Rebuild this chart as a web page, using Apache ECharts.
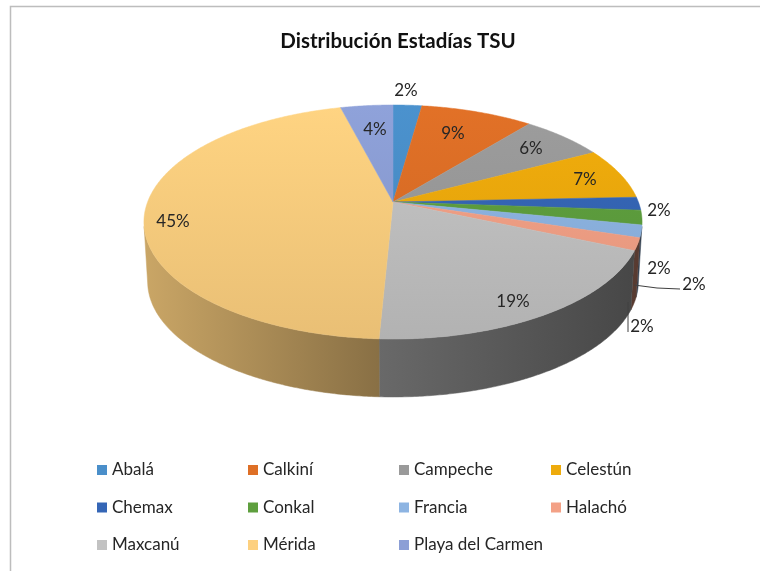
<!DOCTYPE html>
<html>
<head>
<meta charset="utf-8">
<script src="https://cdn.jsdelivr.net/npm/echarts@6/dist/echarts.min.js"></script>
<style>
  html, body { margin: 0; padding: 0; background: #fff; }
  #main { width: 760px; height: 571px; }
</style>
</head>
<body>
<div id="main"></div>
<script>
  // datos
  const categories = ['Abalá', 'Calkiní', 'Campeche', 'Celestún', 'Chemax', 'Conkal', 'Francia', 'Halachó', 'Maxcanú', 'Mérida', 'Playa del Carmen'];
  const values = [2.2, 8.6, 6.4, 7.1, 1.8, 2.0, 1.7, 1.7, 19.2, 45.2, 4.0];
  const colors = ['#4a8fca', '#de6f26', '#9a9a9a', '#eeab0c', '#3566b6', '#5e9f3e', '#8db4e2', '#f3a186', '#c2c2c2', '#fdd07f', '#8c9fd6'];

  // etiquetas, relativas al centro del pie
  const labelOffsets = [[13, -111], [60, -68], [138, -53], [192, -22], [266, 9], [266, 67], [301, 83], [249, 125], [120, 100], [-220, 20], [-18, -72]];
  const leaders = { 6: [[241, 83], [264, 86], [287, 87]], 7: [[235, 100], [235, 130]] };

  // perspectiva del disco
  const cx = 393, cy = 202, radiusX = 245.4, radiusY = 113.6, persp = 0.171;
  const depth = 60, shrink = 0.985;

  const total = values.reduce((a, b) => a + b, 0);

  function project(deg) {
    const t = deg * Math.PI / 180;
    const u = Math.sin(t), v = -Math.cos(t);
    const w = 1 - persp * v;
    return [radiusX * u / w, radiusY * v / w];
  }
  function topPoint(deg) {
    const p = project(deg);
    return [cx + p[0], cy + p[1]];
  }
  function bottomPoint(deg) {
    const p = project(deg);
    return [cx + p[0] * shrink, cy + p[1] * shrink + depth];
  }
  function shade(hex, f) {
    const n = parseInt(hex.slice(1), 16);
    const c = [n >> 16, (n >> 8) & 255, n & 255].map(x => Math.round(Math.min(255, x * f)));
    return 'rgb(' + c.join(',') + ')';
  }
  function arc(fn, from, to) {
    const pts = [];
    const steps = Math.max(2, Math.ceil((to - from) / 0.5));
    for (let i = 0; i <= steps; i++) pts.push(fn(from + (to - from) * i / steps));
    return pts;
  }

  // zona visible de la pared, donde la elipse es tangente a los lados
  const wallFrom = 102, wallTo = 258;

  function renderSlice(idx) {
    return function () {
      const before = values.slice(0, idx).reduce((a, b) => a + b, 0);
      const start = before / total * 360;
      const end = (before + values[idx]) / total * 360;
      const color = colors[idx];
      const children = [];

      const a = Math.max(start, wallFrom), b = Math.min(end, wallTo);
      if (b > a) {
        const side = arc(topPoint, a, b).concat(arc(bottomPoint, a, b).reverse());
        const fill = {
          type: 'linear', global: true, x: 144, y: 0, x2: 642, y2: 0,
          colorStops: [
            { offset: 0, color: shade(color, 0.8) },
            { offset: 0.47, color: shade(color, 0.54) },
            { offset: 1, color: shade(color, 0.36) }
          ]
        };
        children.push({ type: 'polygon', shape: { points: side }, style: { fill: fill, stroke: fill, lineWidth: 0.5 } });
      }

      const top = [[cx, cy]].concat(arc(topPoint, start, end));
      const topFill = {
        type: 'linear', global: true, x: 0, y: 105, x2: 0, y2: 339,
        colorStops: [{ offset: 0, color: shade(color, 1.02) }, { offset: 1, color: shade(color, 0.92) }]
      };
      children.push({ type: 'polygon', shape: { points: top }, style: { fill: topFill, stroke: topFill, lineWidth: 0.5 } });

      if (leaders[idx]) {
        children.push({
          type: 'polyline', z2: 100,
          shape: { points: leaders[idx].map(p => [cx + p[0], cy + p[1]]) },
          style: { fill: 'none', stroke: '#404040', lineWidth: 1 }
        });
      }
      children.push({
        type: 'text', z2: 100,
        x: cx + labelOffsets[idx][0], y: cy + labelOffsets[idx][1],
        style: {
          text: Math.round(values[idx] / total * 100) + '%',
          fill: '#262626', font: '17px Lato', align: 'center', verticalAlign: 'middle'
        }
      });
      return { type: 'group', children: children };
    };
  }

  const legendText = { fontFamily: 'Lato', fontSize: 17, color: '#262626', lineHeight: 20 };
  function legendColumn(x, names) {
    return {
      left: x, top: 460, padding: 0, orient: 'vertical', icon: 'rect',
      itemWidth: 10, itemHeight: 10, itemGap: 17.5,
      selectedMode: false, textStyle: legendText, data: names
    };
  }

  const myChart = echarts.init(document.getElementById('main'), null, { renderer: 'canvas' });
  myChart.setOption({
    animation: false,
    backgroundColor: '#fff',
    title: {
      text: 'Distribución Estadías TSU',
      left: 393, top: 26, textAlign: 'center',
      textStyle: { fontFamily: 'Lato', fontWeight: 'bold', fontSize: 20.5, color: '#111' }
    },
    graphic: [{
      type: 'polyline',
      shape: { points: [[10.5, 571], [10.5, 6.5], [760, 6.5]] },
      style: { fill: 'none', stroke: '#bdbdbd', lineWidth: 1.5 }
    }],
    legend: [
      legendColumn(97, [categories[0], categories[4], categories[8]]),
      legendColumn(248, [categories[1], categories[5], categories[9]]),
      legendColumn(399, [categories[2], categories[6], categories[10]]),
      legendColumn(551, [categories[3], categories[7]])
    ],
    series: categories.map((name, i) => ({
      type: 'custom',
      name: name,
      coordinateSystem: 'none',
      silent: true,
      itemStyle: { color: colors[i] },
      renderItem: renderSlice(i),
      data: [[values[i]]]
    }))
  });
</script>
</body>
</html>
